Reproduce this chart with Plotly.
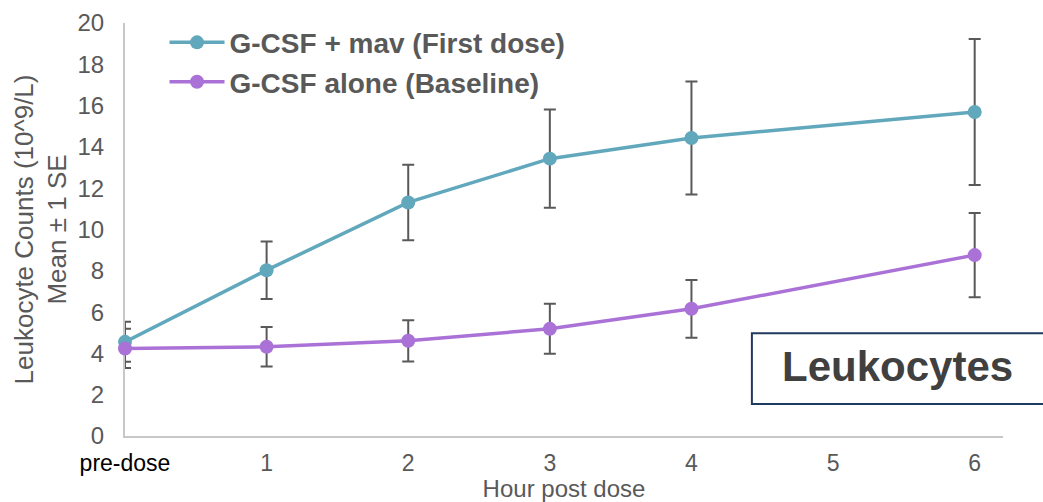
import plotly.graph_objects as go

# Sampling times (hours after dose); 0 = pre-dose
hours = [0, 1, 2, 3, 4, 6]
tick_vals = [0, 1, 2, 3, 4, 5, 6]
tick_text = ['<span style="color:#000000">pre-dose</span>', "1", "2", "3", "4", "5", "6"]

# Leukocyte counts (10^9/L), mean and standard error
mav_mean = [4.56, 8.03, 11.31, 13.43, 14.43, 15.69]
mav_se = [0.97, 1.39, 1.83, 2.38, 2.74, 3.54]
alone_mean = [4.24, 4.32, 4.61, 5.19, 6.16, 8.76]
alone_se = [0.95, 0.96, 1.00, 1.21, 1.40, 2.04]

series_names = ["G-CSF + mav (First dose)", "G-CSF alone (Baseline)"]
colors = ["#62A8BD", "#AA72D6"]

FONT = "Arial, Liberation Sans, sans-serif"
GRAY = "#595959"

fig = go.Figure()

# Error bars (clipped to the plot area, beneath the lines)
for mean, se in [(mav_mean, mav_se), (alone_mean, alone_se)]:
    fig.add_trace(go.Scatter(
        x=hours, y=mean, mode="markers",
        marker=dict(size=1, color="rgba(0,0,0,0)"),
        error_y=dict(type="data", array=se, visible=True,
                     color=GRAY, thickness=2, width=6),
        cliponaxis=True, showlegend=False, hoverinfo="skip",
    ))

# Mean lines with markers
for i, (mean, name) in enumerate(zip([mav_mean, alone_mean], series_names)):
    fig.add_trace(go.Scatter(
        x=hours, y=mean, mode="lines+markers", name=name,
        line=dict(color=colors[i], width=3.5),
        marker=dict(size=14, color=colors[i]),
        cliponaxis=False, legendgroup=f"g{i}",
    ))

# Label box
fig.add_shape(type="rect", xref="paper", yref="paper",
              x0=0.714, x1=1.2, y0=0.0774, y1=0.249,
              line=dict(color="#1F3A5F", width=2), fillcolor="white", layer="above")
fig.add_annotation(text="<b>Leukocytes</b>", xref="paper", yref="paper",
                   x=0.8795, y=0.168, xanchor="center", yanchor="middle", showarrow=False,
                   font=dict(family=FONT, size=42, color="#404040"))

fig.update_layout(
    width=1043, height=502,
    margin=dict(l=125, r=40, t=23, b=66),
    paper_bgcolor="white", plot_bgcolor="white",
    font=dict(family=FONT, color=GRAY),
    showlegend=True,
    legend=dict(x=0.045, y=1.013, xanchor="left", yanchor="top",
                font=dict(family=FONT, size=28, color=GRAY, weight="bold"),
                bgcolor="rgba(0,0,0,0)", traceorder="grouped", tracegroupgap=0,
                itemwidth=55),
    xaxis=dict(range=[0, 6.2], tickvals=tick_vals, ticktext=tick_text,
               showline=True, linecolor="#C8C8C8", linewidth=2,
               showgrid=False, zeroline=False, ticks="", automargin=False,
               tickfont=dict(family=FONT, size=23, color=GRAY),
               ticklabelstandoff=5,
               title=dict(text="Hour post dose", standoff=8,
                          font=dict(family=FONT, size=24, color=GRAY)),
               layer="below traces"),
    yaxis=dict(range=[0, 20], tickvals=list(range(0, 21, 2)),
               showline=True, linecolor="#C8C8C8", linewidth=2,
               showgrid=False, zeroline=False, ticks="", automargin=False,
               tickfont=dict(family=FONT, size=24, color=GRAY),
               ticklabelstandoff=14,
               title=dict(text="Leukocyte Counts (10^9/L)<br>Mean ± 1 SE", standoff=3,
                          font=dict(family=FONT, size=26, color=GRAY)),
               layer="below traces"),
)

fig.write_html("out.html")
